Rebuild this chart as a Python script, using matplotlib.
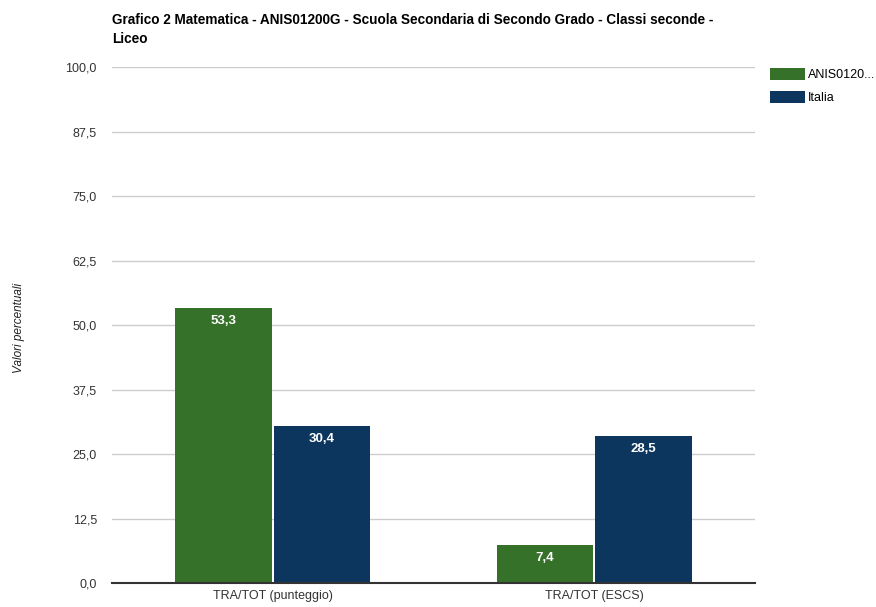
import matplotlib
matplotlib.use("Agg")
import matplotlib.pyplot as plt
import numpy as np

plt.rcParams["font.family"] = ["Liberation Sans", "DejaVu Sans"]

# Data
categories = ["TRA/TOT (punteggio)", "TRA/TOT (ESCS)"]
series_names = ["ANIS0120...", "Italia"]
school_values = [53.3, 7.4]
italy_values = [30.4, 28.5]
yticks = [0.0, 12.5, 25.0, 37.5, 50.0, 62.5, 75.0, 87.5, 100.0]

green = "#367129"
blue = "#0d365f"

fig = plt.figure(figsize=(8.76, 6.07), dpi=100)
ax = fig.add_axes([0.128, 0.0395, 0.734, 0.850])

x = np.arange(len(categories))
w = 0.30
gap = 0.003
b1 = ax.bar(x - w / 2 - gap, school_values, w, color=green, label=series_names[0])
b2 = ax.bar(x + w / 2 + gap, italy_values, w, color=blue, label=series_names[1])

# value labels inside the top of each bar
for bars in (b1, b2):
    for rect in bars:
        h = rect.get_height()
        ax.text(rect.get_x() + rect.get_width() / 2, h - 1.3,
                f"{h:.1f}".replace(".", ","), ha="center", va="top",
                color="white", fontsize=9.5, fontweight="bold")

ax.set_xlim(-0.5, 1.5)
ax.set_ylim(0, 100)
ax.set_yticks(yticks)
ax.set_yticklabels([f"{t:.1f}".replace(".", ",") for t in yticks])
ax.set_xticks(x)
ax.set_xticklabels(categories)
ax.tick_params(length=0, labelsize=9, colors="#333333")
ax.tick_params(axis="y", pad=11)
ax.tick_params(axis="x", pad=5)

ax.grid(axis="y", color="#cccccc", linewidth=1)
ax.set_axisbelow(True)
for s in ["top", "right", "left"]:
    ax.spines[s].set_visible(False)
ax.spines["bottom"].set_color("#333333")
ax.spines["bottom"].set_linewidth(1.5)

fig.text(0.022, 0.46, "Valori percentuali", rotation=90, style="italic",
         fontsize=8.5, color="#222222", va="center", ha="center")

fig.text(0.128, 0.978, "Grafico 2 Matematica - ANIS01200G - Scuola Secondaria di Secondo Grado - Classi seconde -\nLiceo",
         fontsize=9.8, fontweight="bold", va="top", ha="left", linespacing=1.45)

leg = ax.legend(loc="upper left", bbox_to_anchor=(1.005, 1.02), frameon=False,
                fontsize=9, handlelength=2.8, handleheight=1.1, labelspacing=0.75,
                handletextpad=0.3)

fig.savefig("out.png", dpi=100)
